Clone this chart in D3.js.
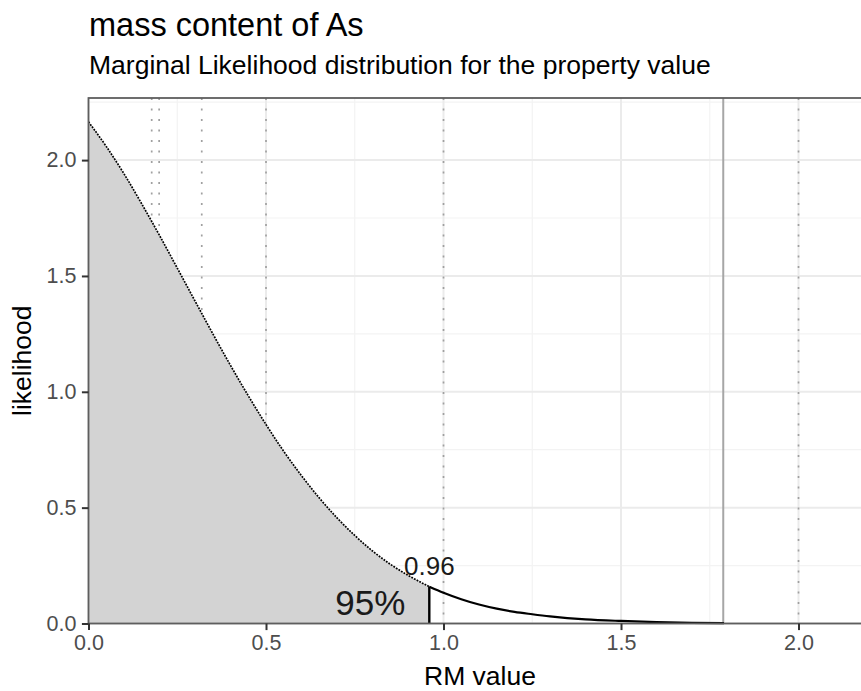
<!DOCTYPE html>
<html>
<head>
<meta charset="utf-8">
<script src="https://cdn.jsdelivr.net/npm/d3@7"></script>
<style>
  html, body { margin: 0; padding: 0; background: #fff; overflow: hidden; }
  svg { display: block; font-family: "Liberation Sans", Arial, Helvetica, sans-serif; }
</style>
</head>
<body>
<svg id="chart" width="861" height="691"></svg>
<script>
// Marginal likelihood of the RM value (density curve)
const rmValue = [0, 0.05, 0.1, 0.15, 0.2, 0.25, 0.3, 0.35, 0.4, 0.45, 0.5, 0.55, 0.6, 0.65, 0.7,
  0.75, 0.8, 0.85, 0.9, 0.96, 1.0, 1.05, 1.1, 1.15, 1.2, 1.25, 1.3, 1.4, 1.5, 1.6, 1.7, 1.79];
const likelihood = [2.165, 2.059, 1.941, 1.811, 1.675, 1.534, 1.392, 1.251, 1.114, 0.983, 0.859,
  0.743, 0.638, 0.542, 0.456, 0.380, 0.313, 0.256, 0.208, 0.159, 0.133, 0.105, 0.082, 0.064,
  0.050, 0.040, 0.031, 0.018, 0.011, 0.006, 0.003, 0.002];

// Upper limit of the 95 % region and its label
const coverageLimit = 0.96;
const coverageText = "95%";

// Reference values drawn as dotted verticals, and the solid reference
const dottedRefs = [0.178, 0.199, 0.319, 0.5, 1.0, 2.0];
const solidRef = 1.788;

// Axis ticks
const xTicks = [0, 0.5, 1.0, 1.5, 2.0];
const xMinor = [0.25, 0.75, 1.25, 1.75];
const yTicks = [0, 0.5, 1.0, 1.5, 2.0];
const yMinor = [0.25, 0.75, 1.25, 1.75, 2.25];

const titleText = "mass content of As";
const subtitleText = "Marginal Likelihood distribution for the property value";
const xTitle = "RM value";
const yTitle = "likelihood";

// ---- layout ----
const panel = { left: 88.5, top: 98, right: 871.5, bottom: 623.5 };
const svg = d3.select("#chart");

const x = d3.scaleLinear().domain([0, 2.2056]).range([panel.left, panel.right]);
const y = d3.scaleLinear().domain([0, 2.268]).range([panel.bottom, panel.top]);

const pts = rmValue.map((v, i) => ({ x: v, y: likelihood[i] }));
const inside = pts.filter(d => d.x <= coverageLimit);
const outside = pts.filter(d => d.x >= coverageLimit);
const limitY = likelihood[rmValue.indexOf(coverageLimit)];

const g = svg.append("g");

// grid
g.selectAll("line.xminor").data(xMinor).join("line")
  .attr("x1", d => x(d)).attr("x2", d => x(d))
  .attr("y1", panel.top).attr("y2", panel.bottom)
  .attr("stroke", "#f3f3f3").attr("stroke-width", 1.2);
g.selectAll("line.yminor").data(yMinor).join("line")
  .attr("y1", d => y(d)).attr("y2", d => y(d))
  .attr("x1", panel.left).attr("x2", panel.right)
  .attr("stroke", "#f3f3f3").attr("stroke-width", 1.2);
g.selectAll("line.xmajor").data(xTicks).join("line")
  .attr("x1", d => x(d)).attr("x2", d => x(d))
  .attr("y1", panel.top).attr("y2", panel.bottom)
  .attr("stroke", "#ebebeb").attr("stroke-width", 2);
g.selectAll("line.ymajor").data(yTicks).join("line")
  .attr("y1", d => y(d)).attr("y2", d => y(d))
  .attr("x1", panel.left).attr("x2", panel.right)
  .attr("stroke", "#ebebeb").attr("stroke-width", 2);

// dotted reference lines
g.selectAll("line.dref").data(dottedRefs).join("line")
  .attr("x1", d => x(d)).attr("x2", d => x(d))
  .attr("y1", panel.top).attr("y2", panel.bottom)
  .attr("stroke", "#a0a0a0").attr("stroke-width", 1.7)
  .attr("stroke-dasharray", "2,8.5");

// shaded 95 % area
const area = d3.area().x(d => x(d.x)).y0(y(0)).y1(d => y(d.y)).curve(d3.curveMonotoneX);
g.append("path").datum(inside).attr("d", area).attr("fill", "#d3d3d3");

// solid reference line
g.append("line")
  .attr("x1", x(solidRef)).attr("x2", x(solidRef))
  .attr("y1", panel.top).attr("y2", panel.bottom)
  .attr("stroke", "#a6a6a6").attr("stroke-width", 2);

// density curve
const line = d3.line().x(d => x(d.x)).y(d => y(d.y)).curve(d3.curveMonotoneX);
g.append("path").datum(inside).attr("d", line)
  .attr("fill", "none").attr("stroke", "#000").attr("stroke-width", 1.7)
  .attr("stroke-dasharray", "1.8,1.2");
g.append("path").datum(outside).attr("d", line)
  .attr("fill", "none").attr("stroke", "#000").attr("stroke-width", 2.2);

// limit marker
g.append("line")
  .attr("x1", x(coverageLimit)).attr("x2", x(coverageLimit))
  .attr("y1", y(0)).attr("y2", y(limitY))
  .attr("stroke", "#000").attr("stroke-width", 2.4);

// panel border
g.append("rect")
  .attr("x", panel.left).attr("y", panel.top)
  .attr("width", panel.right - panel.left).attr("height", panel.bottom - panel.top)
  .attr("fill", "none").attr("stroke", "#5e5e5e").attr("stroke-width", 1.8);

// labels on the curve
g.append("text")
  .attr("x", x(coverageLimit)).attr("y", y(limitY) - 12)
  .attr("text-anchor", "middle").attr("font-size", 26).attr("fill", "#1a1a1a")
  .text(d3.format(".2f")(coverageLimit));
g.append("text")
  .attr("x", x(coverageLimit) - 24).attr("y", y(0) - 8.5)
  .attr("text-anchor", "end").attr("font-size", 35).attr("fill", "#1a1a1a")
  .text(coverageText);

// axes
const fmt = d3.format(".1f");
const xAxis = svg.append("g").attr("transform", `translate(0,${panel.bottom})`)
  .call(d3.axisBottom(x).tickValues(xTicks).tickFormat(fmt).tickSize(6.6).tickPadding(5).tickSizeOuter(0));
const yAxis = svg.append("g").attr("transform", `translate(${panel.left},0)`)
  .call(d3.axisLeft(y).tickValues(yTicks).tickFormat(fmt).tickSize(6.6).tickPadding(5.5).tickSizeOuter(0));
[xAxis, yAxis].forEach(a => {
  a.select(".domain").remove();
  a.selectAll(".tick line").attr("stroke", "#333").attr("stroke-width", 2);
  a.selectAll(".tick text").attr("fill", "#4d4d4d").attr("font-size", 21.5)
    .attr("font-family", "Liberation Sans, Arial, sans-serif");
});

// titles
svg.append("text").attr("x", 89).attr("y", 36)
  .attr("font-size", 32.5).attr("fill", "#000").text(titleText);
svg.append("text").attr("x", 89).attr("y", 74)
  .attr("font-size", 26.5).attr("fill", "#000").text(subtitleText);
svg.append("text").attr("x", (panel.left + panel.right) / 2).attr("y", 685)
  .attr("text-anchor", "middle").attr("font-size", 26.5).attr("fill", "#000").text(xTitle);
svg.append("text")
  .attr("transform", `translate(31,${(panel.top + panel.bottom) / 2}) rotate(-90)`)
  .attr("text-anchor", "middle").attr("font-size", 26.5).attr("fill", "#000").text(yTitle);
</script>
</body>
</html>
